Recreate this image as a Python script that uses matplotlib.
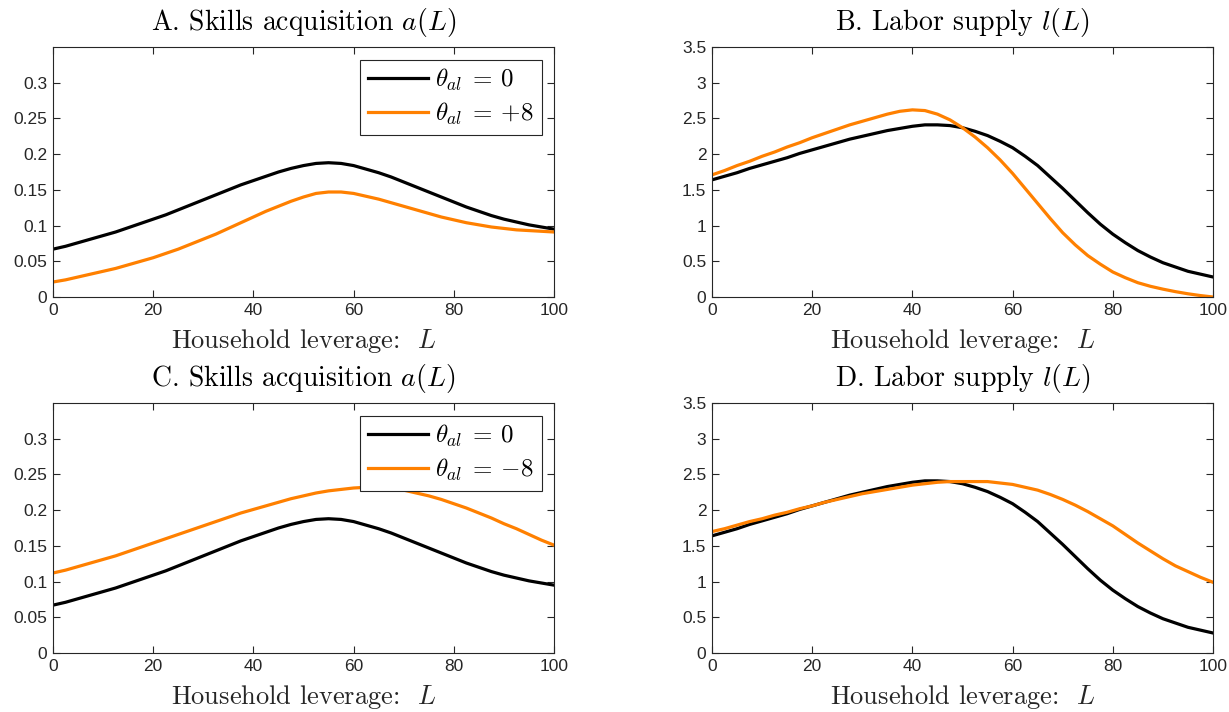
import matplotlib
matplotlib.use("Agg")
import matplotlib.pyplot as plt
import numpy as np

plt.rcParams['mathtext.fontset'] = 'cm'
plt.rcParams['font.family'] = ['Liberation Sans', 'DejaVu Sans']

# leverage grid
L = [0, 2.5, 5, 7.5, 10, 12.5, 15, 17.5, 20, 22.5, 25, 27.5, 30, 32.5, 35, 37.5, 40,
     42.5, 45, 47.5, 50, 52.5, 55, 57.5, 60, 62.5, 65, 67.5, 70, 72.5, 75, 77.5, 80,
     82.5, 85, 87.5, 90, 92.5, 95, 97.5, 100]

# skills acquisition a(L)
a_base = [0.067, 0.071, 0.076, 0.081, 0.086, 0.091, 0.097, 0.103, 0.109, 0.115, 0.122,
          0.129, 0.136, 0.143, 0.150, 0.157, 0.163, 0.169, 0.175, 0.180, 0.184, 0.187,
          0.188, 0.187, 0.184, 0.179, 0.174, 0.168, 0.161, 0.154, 0.147, 0.140, 0.133,
          0.126, 0.120, 0.114, 0.109, 0.105, 0.101, 0.098, 0.095]
a_plus8 = [0.021, 0.024, 0.028, 0.032, 0.036, 0.040, 0.045, 0.050, 0.055, 0.061, 0.067,
           0.074, 0.081, 0.088, 0.096, 0.104, 0.112, 0.120, 0.127, 0.134, 0.140, 0.145,
           0.147, 0.147, 0.145, 0.141, 0.137, 0.132, 0.127, 0.122, 0.117, 0.112, 0.108,
           0.104, 0.101, 0.098, 0.096, 0.094, 0.093, 0.092, 0.091]
a_minus8 = [0.112, 0.116, 0.121, 0.126, 0.131, 0.136, 0.142, 0.148, 0.154, 0.160, 0.166,
            0.172, 0.178, 0.184, 0.190, 0.196, 0.201, 0.206, 0.211, 0.216, 0.220, 0.224,
            0.227, 0.229, 0.231, 0.232, 0.232, 0.231, 0.228, 0.224, 0.220, 0.215, 0.209,
            0.203, 0.196, 0.189, 0.181, 0.174, 0.166, 0.158, 0.151]

# labor supply l(L)
l_base = [1.64, 1.69, 1.74, 1.80, 1.85, 1.90, 1.95, 2.01, 2.06, 2.11, 2.16,
          2.21, 2.25, 2.29, 2.33, 2.36, 2.39, 2.41, 2.41, 2.40, 2.37, 2.32,
          2.26, 2.18, 2.09, 1.97, 1.84, 1.68, 1.52, 1.35, 1.18, 1.02, 0.88,
          0.76, 0.65, 0.56, 0.48, 0.42, 0.36, 0.32, 0.28]
l_plus8 = [1.71, 1.77, 1.84, 1.90, 1.97, 2.03, 2.10, 2.16, 2.23, 2.29, 2.35,
           2.41, 2.46, 2.51, 2.56, 2.60, 2.62, 2.61, 2.56, 2.48, 2.37, 2.24,
           2.09, 1.92, 1.73, 1.52, 1.31, 1.10, 0.90, 0.73, 0.58, 0.46, 0.35,
           0.27, 0.20, 0.15, 0.11, 0.075, 0.045, 0.02, 0.0]
l_minus8 = [1.70, 1.74, 1.79, 1.84, 1.88, 1.93, 1.97, 2.02, 2.06, 2.11, 2.15,
            2.19, 2.23, 2.26, 2.29, 2.32, 2.35, 2.37, 2.39, 2.40, 2.40, 2.40,
            2.40, 2.38, 2.36, 2.32, 2.28, 2.22, 2.15, 2.07, 1.98, 1.88, 1.78,
            1.66, 1.54, 1.43, 1.32, 1.22, 1.14, 1.06, 0.99]

a_ticks = [0, 0.05, 0.1, 0.15, 0.2, 0.25, 0.3]
a_ticklabels = ['0', '0.05', '0.1', '0.15', '0.2', '0.25', '0.3']
l_ticks = [0, 0.5, 1, 1.5, 2, 2.5, 3, 3.5]
l_ticklabels = ['0', '0.5', '1', '1.5', '2', '2.5', '3', '3.5']
x_ticks = [0, 20, 40, 60, 80, 100]

ORANGE = '#ff8000'
GREY = '#262626'
SERIF = 'cmr10'

fig = plt.figure(figsize=(12.29, 7.12), dpi=100)

W = 501 / 1229
H = 250 / 712
lefts = [53 / 1229, 712 / 1229]
bottoms = [1 - 297 / 712, 1 - 653 / 712]


def style_axes(ax, ylim, yticks, yticklabels):
    ax.set_xlim(0, 100)
    ax.set_ylim(*ylim)
    ax.set_xticks(x_ticks)
    ax.set_xticklabels([str(t) for t in x_ticks])
    ax.set_yticks(yticks)
    ax.set_yticklabels(yticklabels)
    ax.tick_params(direction='in', top=True, right=True, length=5, width=0.8,
                   colors=GREY, labelsize=12.5, pad=4)
    for s in ax.spines.values():
        s.set_color(GREY)
        s.set_linewidth(0.8)
    ax.set_xlabel('Household leverage:  $L$', fontsize=19, color=GREY,
                  fontfamily=SERIF, labelpad=7)


panels = [
    (lefts[0], bottoms[0], 'A. Skills acquisition $a(L)$', a_base, a_plus8, (0, 0.35), a_ticks, a_ticklabels, r'$\theta_{al}\:=\:{+8}$'),
    (lefts[1], bottoms[0], 'B. Labor supply $l(L)$', l_base, l_plus8, (0, 3.5), l_ticks, l_ticklabels, None),
    (lefts[0], bottoms[1], 'C. Skills acquisition $a(L)$', a_base, a_minus8, (0, 0.35), a_ticks, a_ticklabels, r'$\theta_{al}\:=\:{-8}$'),
    (lefts[1], bottoms[1], 'D. Labor supply $l(L)$', l_base, l_minus8, (0, 3.5), l_ticks, l_ticklabels, None),
]

for left, bottom, title, base, alt, ylim, yt, ytl, alt_label in panels:
    ax = fig.add_axes([left, bottom, W, H])
    ax.plot(L, base, color='black', lw=2.3, label=r'$\theta_{al}\:=\:0$')
    ax.plot(L, alt, color=ORANGE, lw=2.3, label=alt_label)
    style_axes(ax, ylim, yt, ytl)
    ax.set_title(title, fontsize=20, pad=12, fontfamily=SERIF)
    if alt_label is not None:
        leg = ax.legend(loc='upper right', fontsize=18, fancybox=False, framealpha=1,
                        edgecolor=GREY, handlelength=2.4, handletextpad=0.3,
                        borderpad=0.3, labelspacing=0.3, borderaxespad=0.5)
        leg.get_frame().set_linewidth(0.8)

fig.savefig('out.png', dpi=100)
